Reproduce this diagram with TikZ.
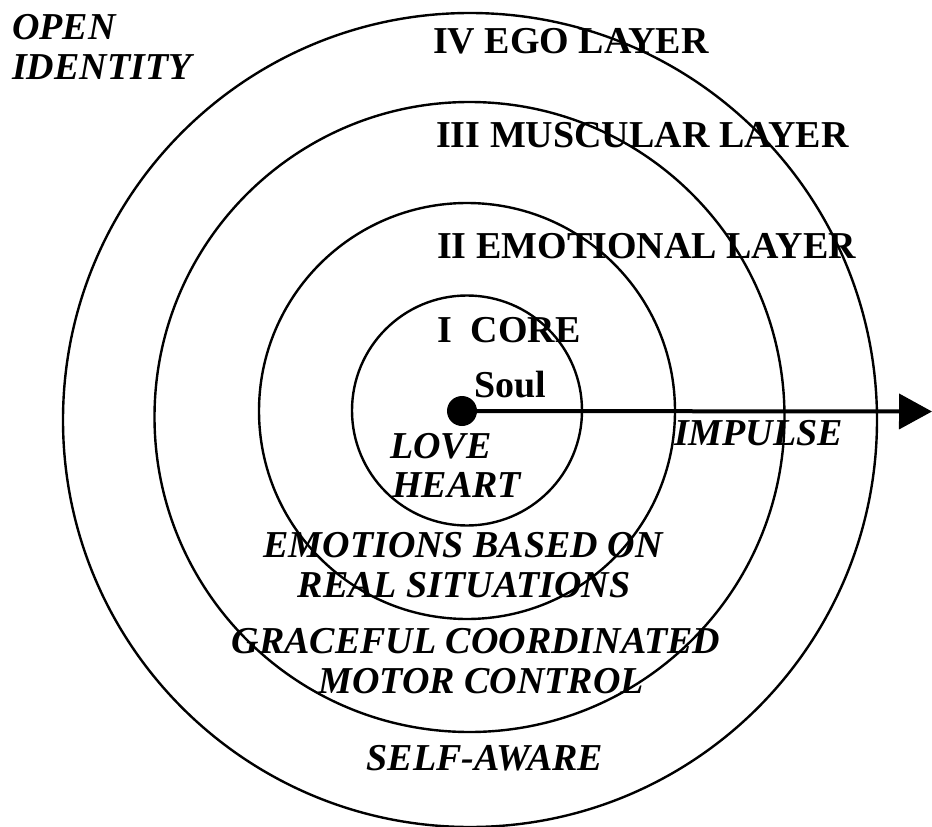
\documentclass[tikz,border=0pt]{standalone}
\usepackage{fontspec}
\setmainfont{Liberation Serif}
\usetikzlibrary{arrows.meta}
\begin{document}
\begin{tikzpicture}[x=1pt,y=-1pt,
  ring/.style={draw, circle, line width=2.4pt, inner sep=0pt, outer sep=0pt},
  lbl/.style={font=\fontsize{38}{40}\selectfont\bfseries, inner sep=0pt},
  ilbl/.style={font=\fontsize{38}{40}\selectfont\bfseries\itshape, inner sep=0pt}]
\useasboundingbox (0,0) rectangle (932,827);
% texts
\node[ilbl, anchor=base west] (open) at (12,39) {OPEN};
\node[ilbl, anchor=base west] (ident) at (12,79) {IDENTITY};
\node[lbl, anchor=base west] (ego) at (433,53) {IV EGO LAYER};
\node[lbl, anchor=base west] (musc) at (436,147) {III MUSCULAR LAYER};
\node[lbl, anchor=base west] (emo) at (437,258) {II EMOTIONAL LAYER};
\node[lbl, anchor=base west] (corel) at (437,342) {I\ \ CORE};
\node[lbl, anchor=base west] (soul) at (474,397) {Soul};
\node[ilbl, anchor=base west] (imp) at (674,445) {IMPULSE};
\node[ilbl, anchor=base west] (love) at (390,458) {LOVE};
\node[ilbl, anchor=base west] (heart) at (392,497) {HEART};
\node[ilbl, anchor=base] (emoa) at (463,557) {EMOTIONS BASED ON};
\node[ilbl, anchor=base] (emob) at (464,597) {REAL SITUATIONS};
\node[ilbl, anchor=base] (gra) at (476,653) {GRACEFUL COORDINATED};
\node[ilbl, anchor=base] (grb) at (481,693) {MOTOR CONTROL};
\node[ilbl, anchor=base] (self) at (485,770) {SELF-AWARE};
% rings
\node[ring, minimum size=230pt] (core) at (467,410.5) {};
\node[ring, minimum size=416pt] (emotional) at (467,411) {};
\node[ring, minimum size=630pt] (muscular) at (469.5,417) {};
\node[ring, minimum size=814pt] (egoring) at (470,420) {};
% soul dot and impulse arrow
\node[circle, fill=black, minimum size=30pt, inner sep=0pt] (dot) at (462,411) {};
\coordinate (tip) at (932,411.5);
\draw[line width=4pt, -{Triangle[length=33pt,width=35pt]}] (dot.center) -- (tip);
\end{tikzpicture}
\end{document}
